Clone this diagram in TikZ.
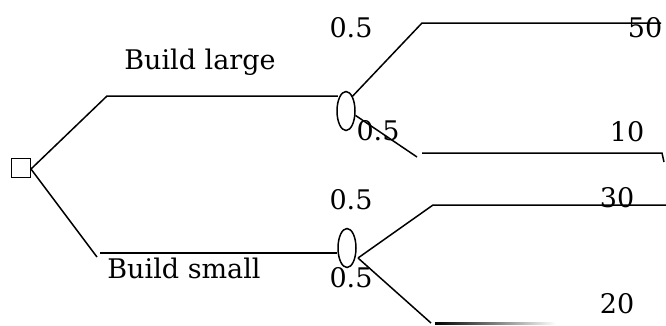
\documentclass[tikz,border=0pt]{standalone}
\usepackage{fontspec}
\setmainfont{DejaVu Serif}
\usetikzlibrary{shapes.geometric}
\begin{document}
\begin{tikzpicture}[x=1pt,y=-1pt,
  ln/.style={line width=1.5pt},
  lbl/.style={inner sep=0pt,font=\fontsize{27}{30}\selectfont},
  decision/.style={draw,line width=1.5pt,minimum size=19pt,inner sep=0pt},
  chance/.style={draw,ellipse,line width=1.5pt,minimum width=18pt,minimum height=39pt,inner sep=0pt}]
\useasboundingbox (0,0) rectangle (666,325);
% nodes
\node[decision] (sq) at (21,168) {};
\node[chance] (e1) at (346,111) {};
\node[chance] (e2) at (347,248) {};
% coordinates
\coordinate (s0) at (31,169);
\coordinate (a1) at (107,96);
\coordinate (a2) at (97,257);
\coordinate (b2) at (100,253);
\coordinate (u1) at (422,23);
\coordinate (u1e) at (661,23);
\coordinate (d1) at (417,157);
\coordinate (d1s) at (422,153);
\coordinate (d1e) at (662,153);
\coordinate (d1t) at (664,162);
\coordinate (j2) at (358,258);
\coordinate (u2) at (433,205);
\coordinate (u2e) at (666,205);
\coordinate (d2) at (431,323);
% connectors
\draw[ln] (s0) -- (a1) -- ([xshift=1.5pt]e1.west |- a1);
\draw[ln] (s0) -- (a2);
\draw[ln] (b2) -- (e2.west |- b2);
\draw[ln] (e1.66) -- (u1) -- (u1e);
\draw[ln] (e1.-25) -- (d1);
\draw[ln] (d1s) -- (d1e) -- (d1t);
\draw[ln] (j2) -- (u2) -- (u2e);
\draw[ln] (j2) -- (d2);
\shade[left color=black,right color=white] (435,322) rectangle (556,324.5);
% labels
\node[lbl] (t1) at (200,62) {Build large};
\node[lbl] (t2) at (184,268) {Build small};
\node[lbl] (p1) at (351,28) {0.5};
\node[lbl] (p2) at (378,131) {0.5};
\node[lbl] (p3) at (351,200) {0.5};
\node[lbl] (p4) at (351,278) {0.5};
\node[lbl] (v1) at (645,28) {50};
\node[lbl] (v2) at (627,132) {10};
\node[lbl] (v3) at (617,198) {30};
\node[lbl] (v4) at (617,304) {20};
\end{tikzpicture}
\end{document}
